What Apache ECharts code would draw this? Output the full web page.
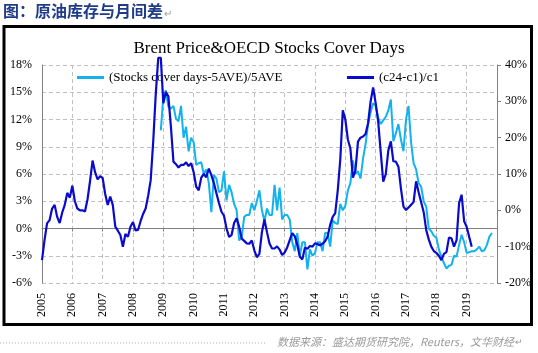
<!DOCTYPE html>
<html><head><meta charset="utf-8">
<script src="https://cdn.jsdelivr.net/npm/echarts@6/dist/echarts.min.js"></script>
<style>html,body{margin:0;padding:0;background:#fff}#c{width:538px;height:353px}</style>
</head><body><div id="c"></div>
<script>
// Tick labels (years) shown on the x axis
const yearLabels = ['2005','2006','2007','2008','2009','2010','2011','2012','2013','2014','2015','2016','2017','2018','2019'];
const axisStart = '2005-01';
const axisEnd = '2020-01';

// (Stocks cover days-5AVE)/5AVE, monthly, left axis (%), starting 2008-12
const stocksStart = '2008-12';
const stocksCoverDev = [
  10.8, 14.5, 15.2,
  13.4, 13.2, 13.5, 12.1, 11.8, 13.5, 10.0, 11.2, 8.5, 10.0,
  9.5, 7.0, 7.2, 7.3, 6.0, 6.5, 5.0, 1.8, 5.9, 5.5,
  4.0, 4.2, 6.3, 3.1, 4.8, 4.0, 2.7, 2.0, -1.3, -1.0,
  1.3, 1.5, 1.5, 2.8, 2.0, 3.0, 4.2, 2.0, 0.8, 2.2,
  1.5, 1.5, 4.8, 2.0, 4.5, 1.0, 1.5, 1.5, 1.0, -1.5,
  -2.5, -0.5, -3.0, -1.5, -1.5, -4.5, -2.3, -3.0, -2.7, -1.5,
  -1.5, -2.5, -0.5, -0.5, -2.0, 0.9, 0.6, 0.5, 2.7, 2.0,
  2.5, 4.2, 5.0, 7.5, 6.0, 6.3, 5.5, 7.7, 9.3, 11.5,
  12.8, 13.8, 13.5, 12.2, 11.5, 11.9, 12.3, 13.0, 14.2, 9.6,
  10.5, 11.5, 9.8, 8.5, 12.0, 13.5, 9.5, 7.2, 6.5, 5.0,
  4.6, 3.0, 2.4, 0.0, -0.3, -0.8, -1.0, -2.3, -3.1, -3.8,
  -4.4, -4.1, -4.0, -3.0, -3.1, -1.8, -0.7, -1.5, -2.7, -2.6,
  -2.5, -2.5, -2.3, -2.0, -2.5, -2.4, -1.8, -0.9, -0.5
];

// (c24-c1)/c1, monthly, right axis (%), starting 2005-01
const spreadStart = '2005-01';
const c24c1Spread = [
  -13.7, -8.2, -3.6, -2.7, 0.5, 1.5, -1.8, -3.5, -0.6, 1.5,
  4.8, 3.5, 6.8, 2.5, 0.5, 0.0, 0.0, -0.3, 3.0, 8.0,
  13.7, 10.5, 8.5, 9.4, 8.9, 4.5, 1.5, 3.8, 1.5, -4.5,
  -5.6, -6.8, -10.0, -6.5, -7.3, -4.5, -3.2, -5.5, -5.4, -3.0,
  -1.0, 0.5, 4.0, 8.3, 19.0, 32.0, 42.0, 42.0, 29.5, 32.6,
  31.3, 23.0, 13.4, 12.7, 11.8, 12.5, 12.5, 13.2, 12.2, 13.0,
  10.5, 6.5, 5.5, 9.0, 10.0, 9.1, 11.5, 9.7, 7.5, 4.7,
  2.0, -0.4, -1.5, -5.0, -7.3, -6.8, -3.5, -2.2, -4.5, -7.8,
  -8.4, -9.1, -9.2, -8.3, -11.0, -12.9, -12.0, -6.0, -2.5, -6.0,
  -9.1, -10.5, -10.5, -9.9, -10.8, -12.3, -11.6, -10.2, -8.2, -6.3,
  -7.1, -9.5, -12.8, -13.5, -10.3, -10.6, -9.8, -10.0, -9.1, -9.3,
  -9.6, -9.2, -8.5, -7.2, -4.0, -1.8, -0.8, 5.5, 14.0, 27.5,
  25.0, 19.5, 17.0, 9.0, 11.0, 18.9, 20.0, 20.3, 21.0, 24.0,
  30.0, 33.8, 29.5, 24.4, 16.0, 7.9, 10.0, 16.5, 19.0, 13.5,
  13.4, 12.0, 6.0, 1.0, 0.1, 0.8, 1.5, 2.3, 8.0, 5.0,
  2.2, -0.5, -5.4, -8.0, -10.0, -11.2, -11.7, -12.5, -13.7, -12.0,
  -11.5, -7.5, -7.7, -10.0, -8.2, 2.0, 4.3, -3.0, -4.5, -7.3, -10.0
];

const nameStocks = '(Stocks cover days-5AVE)/5AVE';
const nameSpread = '(c24-c1)/c1';

// monthly categories
const months = [];
(function(){
  let y = +axisStart.slice(0,4), m = +axisStart.slice(5,7);
  while (true) {
    const s = y + '-' + (m < 10 ? '0' + m : '' + m);
    months.push(s);
    if (s === axisEnd) break;
    m++; if (m > 12) { m = 1; y++; }
  }
})();
function alignTo(start, values) {
  const idx = months.indexOf(start);
  return months.map((_, i) => (i >= idx && i - idx < values.length) ? values[i - idx] : null);
}
const isYearTick = (i, v) => v.endsWith('-01') && yearLabels.indexOf(v.slice(0,4)) >= 0;

const serif = '"Liberation Serif", "Times New Roman", serif';
const chart = echarts.init(document.getElementById('c'), null, {renderer: 'canvas'});
chart.setOption({
  animation: false,
  backgroundColor: '#fff',
  title: {
    text: 'Brent Price&OECD Stocks Cover Days',
    left: 'center', top: 35,
    textStyle: {fontFamily: serif, fontSize: 17, fontWeight: 'normal', color: '#000'}
  },
  legend: [
    {data: [nameStocks], left: 75, top: 66, icon: 'rect', itemWidth: 27, itemHeight: 3,
     backgroundColor: '#fff', padding: [5, 4, 5, 2], z: 1,
     textStyle: {fontFamily: serif, fontSize: 13, color: '#000'}},
    {data: [nameSpread], left: 345, top: 66, icon: 'rect', itemWidth: 27, itemHeight: 3,
     backgroundColor: '#fff', padding: [5, 4, 5, 2], z: 1,
     textStyle: {fontFamily: serif, fontSize: 13, color: '#000'}}
  ],
  grid: {left: 42, right: 41, top: 65, bottom: 70, containLabel: false, outerBoundsMode: 'none'},
  xAxis: [
    {type: 'category', data: months, boundaryGap: false,
     axisLine: {show: true, onZero: true, onZeroAxisIndex: 0, lineStyle: {color: '#808080', width: 1}},
     axisTick: {show: true, interval: isYearTick, length: 3, lineStyle: {color: '#808080'}},
     axisLabel: {show: false},
     splitLine: {show: true, interval: isYearTick, lineStyle: {color: '#C0C0C0', type: [4, 3], width: 1}}},
    {type: 'category', data: months, boundaryGap: false, position: 'bottom',
     axisLine: {show: false, onZero: false}, axisTick: {show: false},
     axisLabel: {interval: isYearTick, rotate: 90, margin: 10, formatter: v => v.slice(0,4),
                 fontFamily: serif, fontSize: 12, color: '#000'},
     splitLine: {show: false}}
  ],
  yAxis: [
    {type: 'value', min: -6, max: 18, interval: 3,
     axisLine: {show: true, lineStyle: {color: '#808080'}},
     axisTick: {show: false},
     axisLabel: {formatter: '{value}%', margin: 10, fontFamily: serif, fontSize: 12, color: '#000'},
     splitLine: {show: true, lineStyle: {color: '#C0C0C0', type: [4, 3], width: 1}}},
    {type: 'value', position: 'right', min: -20, max: 40, interval: 10,
     axisLine: {show: true, lineStyle: {color: '#808080'}},
     axisTick: {show: true, inside: false, length: 4, lineStyle: {color: '#808080'}},
     axisLabel: {formatter: '{value}%', margin: 8, fontFamily: serif, fontSize: 12, color: '#000'},
     splitLine: {show: false}}
  ],
  series: [
    {name: nameStocks, type: 'line', xAxisIndex: 0, yAxisIndex: 0,
     data: alignTo(stocksStart, stocksCoverDev), symbol: 'none', connectNulls: false,
     lineStyle: {color: '#12B2EE', width: 2}, itemStyle: {color: '#12B2EE'}, z: 2},
    {name: nameSpread, type: 'line', xAxisIndex: 0, yAxisIndex: 1,
     data: alignTo(spreadStart, c24c1Spread), symbol: 'none', clip: false,
     lineStyle: {color: '#0A0ACC', width: 2.2}, itemStyle: {color: '#0A0ACC'}, z: 3}
  ],
  graphic: [
    {type: 'text', x: 3, y: 3, style: {text: '图：原油库存与月间差', font: 'bold 16px "Noto Sans CJK SC"', fill: '#1F3C88'}},
    {type: 'text', x: 164, y: 8, style: {text: '↵', font: '10px "Noto Sans CJK SC"', fill: '#999'}},
    {type: 'rect', shape: {x: 4, y: 26.5, width: 527.5, height: 298}, style: {fill: null, stroke: '#000', lineWidth: 3}, z: 10},
    {type: 'line', shape: {x1: 0, y1: 343, x2: 266, y2: 343}, style: {stroke: '#AAAAAA', lineWidth: 1, lineDash: [1, 2]}},
    {type: 'text', x: 514, y: 342, style: {text: '数据来源：盛达期货研究院，Reuters，文华财经', font: 'italic 11px "Noto Sans CJK SC"', fill: '#999999', align: 'right', verticalAlign: 'middle'}},
    {type: 'text', x: 515, y: 337, style: {text: '↵', font: '9px "Noto Sans CJK SC"', fill: '#999'}}
  ]
});
</script>
</body></html>
